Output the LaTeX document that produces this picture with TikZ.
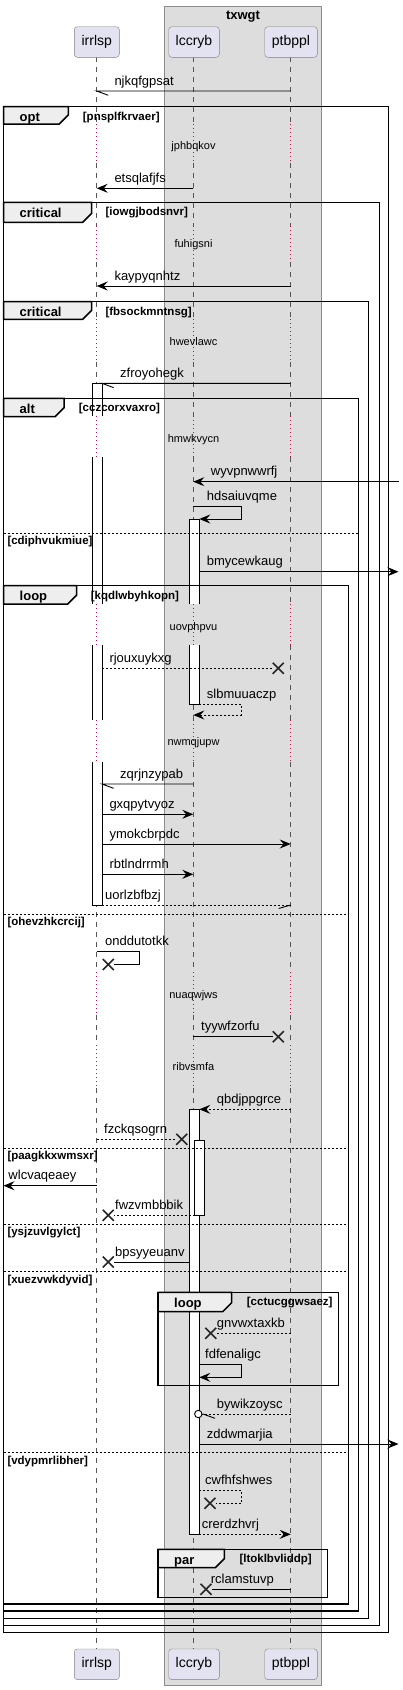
\documentclass[tikz,border=0pt]{standalone}
\usepackage{fontspec}
\setmainfont{Liberation Sans}
\usetikzlibrary{arrows.meta}
\definecolor{partfill}{HTML}{E2E2F0}
\definecolor{partdraw}{HTML}{7F7F7F}
\definecolor{boxfill}{HTML}{DDDDDD}
\definecolor{boxdraw}{HTML}{8C8C8C}
\definecolor{tabfill}{HTML}{EEEEEE}
\definecolor{lifec}{HTML}{555555}
\definecolor{delayc}{HTML}{B8134A}
\newcommand\frm[9]{%
  \draw[frameline] (#1,#2) rectangle (#3,#4);
  \draw[frameline, fill=tabfill] (#1,#2) -- (#5,#2) -- (#5,{#6-9}) -- ({#5-9},#6) -- (#1,#6) -- cycle;
  \node[kindl] (k#9) at ({#1+16},{#2+15}) {#7};
  \node[condl] (c#9) at (#8,{#2+13.5}) {[#9]};
}
\newcommand\sepl[3]{%
  \draw[sepline] (3.5,#1) -- (#2,#1);
  \node[condl] (s#3) at (7.3,{#1+11.5}) {[#3]};
}
\newcommand\xx[2]{%
  \draw[xm] ({#1-5.5},{#2-5.5}) -- ({#1+5.5},{#2+5.5}) ({#1-5.5},{#2+5.5}) -- ({#1+5.5},{#2-5.5});
}
\newcommand\mt[4]{\node[mtxt] (#1) at (#2,#3) {#4};}
\newcommand\dt[3]{\node[dtxt] (#1) at (193.5,#2) {#3};}
\begin{document}
\begin{tikzpicture}[x=1pt,y=-1pt,
  msg/.style={line width=0.9pt, draw=black},
  dmsg/.style={msg, dash pattern=on 2pt off 2pt},
  arr/.style={-{Stealth[length=11pt,width=9pt,inset=4pt]}},
  life/.style={draw=lifec, line width=0.7pt, dash pattern=on 5pt off 5pt},
  dly/.style={draw=delayc, line width=1pt, dash pattern=on 1pt off 3pt},
  act/.style={draw=black, line width=0.9pt},
  frameline/.style={draw=black, line width=1.5pt},
  sepline/.style={draw=black, line width=0.8pt, dash pattern=on 2pt off 2pt},
  xm/.style={draw=black!85, line width=1.6pt},
  part/.style={draw=partdraw, fill=partfill, rounded corners=3pt, inner sep=0pt, minimum height=30.6pt, font=\fontsize{14}{16}\selectfont},
  mtxt/.style={anchor=base west, inner sep=0pt, font=\fontsize{13}{15}\selectfont},
  dtxt/.style={anchor=base, inner sep=0pt, font=\fontsize{11}{13}\selectfont},
  kindl/.style={anchor=base west, inner sep=0pt, font=\bfseries\fontsize{13}{15}\selectfont},
  condl/.style={anchor=base west, inner sep=0pt, font=\bfseries\fontsize{11.5}{13}\selectfont},
]
\useasboundingbox (0,0) rectangle (403,1690);
% box
\draw[draw=boxdraw, fill=boxfill, line width=0.8pt] (164.3,6) rectangle (321.3,1685.3);
\node[kindl, anchor=base] (txwgt) at (243,19.5) {txwgt};
% lifelines
\foreach \x in {96.7,193.3,290.7}{
  \foreach \a/\b in {57.3/124,163/226,262/319,362/416,457/604,645/720,762/972,1015/1045,1088/1648.3}
    \draw[life] (\x,\a) -- (\x,\b);
  \foreach \a/\b in {124/163,226/262,319/362,416/457,604/645,720/762,972/1015,1045/1088}
    \draw[dly] (\x,\a) -- (\x,\b);
}
% participants
\node[part, minimum width=45pt] (irrlspT) at (96.8,42) {irrlsp};
\node[part, minimum width=50.6pt] (lccrybT) at (194,42) {lccryb};
\node[part, minimum width=52.6pt] (ptbpplT) at (291,42) {ptbppl};
\node[part, minimum width=45pt] (irrlspB) at (96.8,1664.3) {irrlsp};
\node[part, minimum width=50.6pt] (lccrybB) at (194,1664.3) {lccryb};
\node[part, minimum width=52.6pt] (ptbpplB) at (291,1664.3) {ptbppl};
% activations
\fill[white] (92.3,383.3) rectangle (102,416);
\fill[white] (92.3,457) rectangle (102,604);
\fill[white] (92.3,645) rectangle (102,720);
\fill[white] (92.3,762) rectangle (102,905);
\draw[act] (92.3,416) -- (92.3,383.3) -- (102,383.3) -- (102,416);
\draw[act] (92.3,457) -- (92.3,604) (102,457) -- (102,604);
\draw[act] (92.3,645) -- (92.3,720) (102,645) -- (102,720);
\draw[act] (92.3,762) -- (92.3,905) -- (102,905) -- (102,762);
\filldraw[act, fill=white] (189.3,604) -- (189.3,519) -- (199.3,519) -- (199.3,604);
\filldraw[act, fill=white] (189.3,645) -- (189.3,704) -- (199.3,704) -- (199.3,645);
\filldraw[act, fill=white] (189.3,1109.3) rectangle (199.3,1534.3);
\filldraw[act, fill=white] (194.7,1140) rectangle (204.3,1215.3);
% messages
\draw[msg] (290.7,91) -- (96.7,91) -- ++(11.6,4.3);
\draw[msg,arr] (193.3,188.3) -- (96.7,188.3);
\draw[msg,arr] (290.7,286) -- (96.7,286);
\draw[msg] (290.7,383.3) -- (102,383.3) -- ++(11.6,4.3);
\draw[msg,arr] (398.5,481.7) -- (193.3,481.7);
\draw[msg,arr] (193.3,506.7) -- (241.3,506.7) -- (241.3,519) -- (199.3,519);
\draw[msg,arr] (199.3,571.7) -- (398.5,571.7);
\draw[dmsg] (102,668.3) -- (273,668.3); \xx{278.3}{668.3}
\draw[dmsg,arr] (199.3,704) -- (241.3,704) -- (241.3,715) -- (193.3,715);
\draw[msg] (193.3,784) -- (102,784) -- ++(11.6,4.3);
\draw[msg,arr] (102,814.3) -- (193.3,814.3);
\draw[msg,arr] (102,844) -- (290.7,844);
\draw[msg,arr] (102,874.3) -- (193.3,874.3);
\draw[dmsg] (102,905) -- (290.7,905);
\draw[msg] (290.7,905) -- ++(-12,3.5);
\draw[msg] (96.7,951.7) -- (139.3,951.7) -- (139.3,964.5) -- (113.5,964.5); \xx{108.3}{964.5}
\draw[msg] (193.3,1036.7) -- (273,1036.7); \xx{278.3}{1036.7}
\draw[dmsg,arr] (290.7,1109.3) -- (199.3,1109.3);
\draw[dmsg] (96.7,1139.3) -- (176,1139.3); \xx{181.7}{1139.3}
\draw[msg,arr] (96.7,1185.7) -- (3.5,1185.7);
\draw[dmsg] (194.7,1215.3) -- (113.5,1215.3); \xx{108.3}{1215.3}
\draw[msg] (189.3,1262) -- (113.5,1262); \xx{108.3}{1262}
\draw[dmsg] (290.7,1333.3) -- (216,1333.3); \xx{210.7}{1333.3}
\draw[msg,arr] (199.3,1364.3) -- (241.3,1364.3) -- (241.3,1377.3) -- (199.3,1377.3);
\draw[dmsg] (290.7,1414) -- (202,1414);
\draw[msg, fill=white] (198.3,1414) circle (3.7);
\draw[msg] (203,1414) -- (215,1418.3);
\draw[msg,arr] (199.3,1444) -- (398.5,1444);
\draw[dmsg] (199.3,1490) -- (241.3,1490) -- (241.3,1503.3) -- (215.5,1503.3); \xx{210}{1503.3}
\draw[dmsg,arr] (199.3,1534.3) -- (290.7,1534.3);
\draw[msg] (290.7,1589.3) -- (211.5,1589.3); \xx{206}{1589.3}
% frames
\frm{3.5}{106.7}{388.7}{1632.7}{68.3}{124}{opt}{82.7}{pnsplfkrvaer}
\frm{3.5}{202.3}{379.3}{1625.7}{91.7}{222.3}{critical}{105.3}{iowgjbodsnvr}
\frm{3.5}{301.7}{368.7}{1618.3}{91.7}{319.3}{critical}{105.3}{fbsockmntnsg}
\frm{3.5}{398.3}{358.7}{1611}{64}{416.7}{alt}{78.7}{cczcorxvaxro}
\frm{3.5}{585.7}{348.7}{1604}{76.7}{604}{loop}{90.7}{kqdlwbyhkopn}
\frm{158}{1292.3}{338.7}{1385.7}{231.7}{1311.7}{loop}{246.7}{cctucggwsaez}
\frm{158}{1549.3}{327.3}{1597.3}{224.3}{1567.7}{par}{239.3}{ltoklbvliddp}
\sepl{533.3}{358.7}{cdiphvukmiue}
\sepl{914}{348.7}{ohevzhkcrcij}
\sepl{1148.3}{348.7}{paagkkxwmsxr}
\sepl{1224.3}{348.7}{ysjzuvlgylct}
\sepl{1271.7}{348.7}{xuezvwkdyvid}
\sepl{1452.7}{348.7}{vdypmrlibher}
% delay texts
\dt{d1}{149.5}{jphbqkov}
\dt{d2}{247.5}{fuhigsni}
\dt{d3}{345.5}{hwevlawc}
\dt{d4}{442.5}{hmwkvycn}
\dt{d5}{630.5}{uovphpvu}
\dt{d6}{745.5}{nwmqjupw}
\dt{d7}{998.5}{nuaqwjws}
\dt{d8}{1070.5}{ribvsmfa}
% message texts
\mt{t1}{114.3}{85}{njkqfgpsat}
\mt{t2}{114.3}{182.3}{etsqlafjfs}
\mt{t3}{114.3}{280}{kaypyqnhtz}
\mt{t4}{120}{377.3}{zfroyohegk}
\mt{t5}{210.7}{475.7}{wyvpnwwrfj}
\mt{t6}{206.7}{500.7}{hdsaiuvqme}
\mt{t7}{206.7}{565.7}{bmycewkaug}
\mt{t8}{109.3}{662.3}{rjouxuykxg}
\mt{t9}{206.7}{698}{slbmuuaczp}
\mt{t10}{120}{778}{zqrjnzypab}
\mt{t11}{109.3}{808.3}{gxqpytvyoz}
\mt{t12}{109.3}{838}{ymokcbrpdc}
\mt{t13}{109.3}{868.3}{rbtlndrrmh}
\mt{t14}{105}{899}{uorlzbfbzj}
\mt{t15}{105}{945.7}{onddutotkk}
\mt{t16}{201}{1030.7}{tyywfzorfu}
\mt{t17}{216.7}{1103.3}{qbdjppgrce}
\mt{t18}{104}{1133.3}{fzckqsogrn}
\mt{t19}{8.3}{1179.7}{wlcvaqeaey}
\mt{t20}{115}{1209.3}{fwzvmbbbik}
\mt{t21}{115}{1256}{bpsyyeuanv}
\mt{t22}{216.7}{1327.3}{gnvwxtaxkb}
\mt{t23}{205}{1358.3}{fdfenaligc}
\mt{t24}{216.7}{1408}{bywikzoysc}
\mt{t25}{206.7}{1438}{zddwmarjia}
\mt{t26}{205}{1484}{cwfhfshwes}
\mt{t27}{201.7}{1528.3}{crerdzhvrj}
\mt{t28}{210.7}{1583.3}{rclamstuvp}
\end{tikzpicture}
\end{document}
